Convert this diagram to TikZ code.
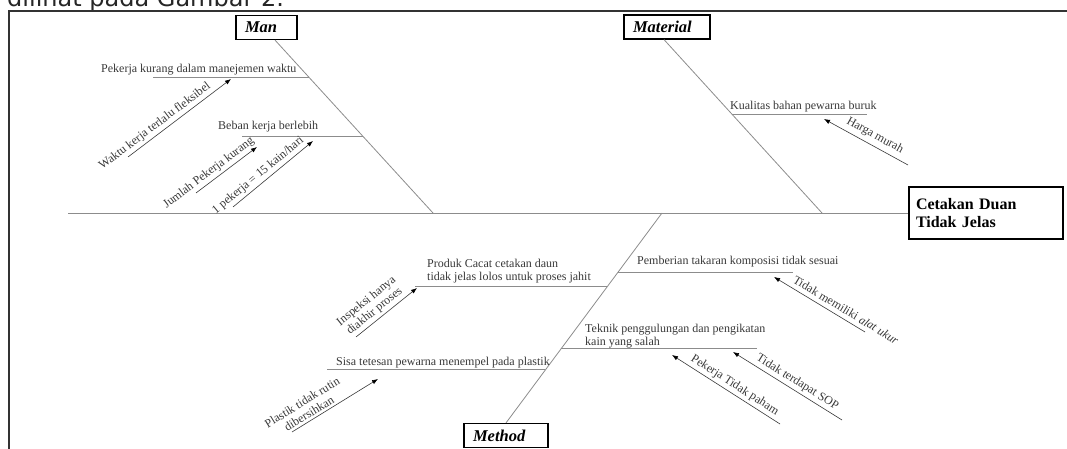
\documentclass[tikz,border=0pt]{standalone}
\usepackage{fontspec}
\setmainfont{Liberation Serif}
\newfontfamily\pagefont{DejaVu Sans}
\usetikzlibrary{arrows.meta}
\definecolor{bonegray}{gray}{0.55}
\definecolor{labgray}{gray}{0.22}
\begin{document}
\begin{tikzpicture}[x=1pt, y=-1pt,
        cat/.style = {draw, line width=1.2pt, font=\fontsize{16.5}{18}\selectfont\bfseries\itshape, align=left, inner xsep=9pt, minimum height=24pt},
        effect/.style = {draw, line width=1.2pt, font=\fontsize{16}{18}\selectfont\bfseries, align=left, text width=140pt, inner xsep=7pt, minimum height=52pt},
        bone/.style = {draw=bonegray, line width=0.8pt},
        cause/.style = {font=\fontsize{12}{13}\selectfont, text=labgray, inner sep=0pt, anchor=base west, align=left},
        why/.style = {draw=labgray, line width=0.6pt, -{Latex[length=6pt,width=4.5pt,color=black]}},
        lab/.style = {font=\fontsize{12}{13}\selectfont, text=labgray, sloped, above, inner sep=2.5pt, align=center}
    ]
        \useasboundingbox (0,0) rectangle (1067,449);
        \clip (0,0) rectangle (1067,449);
        \node[font=\pagefont\fontsize{24}{28}\selectfont, anchor=base west, inner sep=0pt, text=black!85] (pagetext) at (7,7) {dilihat pada Gambar 2.};
        \draw[line width=1.5pt, black!80] (9,11) rectangle (1100,480);

        \node[cat, text width=43pt] (man) at (266.5,27.5) {Man};
        \node[cat, text width=68pt] (material) at (667,27) {Material};
        \node[cat, text width=66pt] (method) at (506,435.5) {Method};
        \node[effect] (effect) at (986,213) {Cetakan Duan\\Tidak Jelas};

        \coordinate (tail) at (68,213);
        \coordinate (manjoint) at (433,213);
        \coordinate (matjoint) at (822,213);
        \coordinate (methjoint) at (662,213);
        \draw[bone] (tail) -- (effect.west);
        \draw[bone] ([xshift=8.5pt]man.south) -- (manjoint);
        \draw[bone] ([xshift=-3pt]material.south) -- (matjoint);
        \draw[bone] (methjoint) -- (method.north);

        \coordinate (m1a) at (153,77);    \coordinate (m1b) at (309,77);
        \coordinate (m2a) at (242,136);   \coordinate (m2b) at (363,136);
        \coordinate (k1a) at (731.5,114); \coordinate (k1b) at (867,114);
        \coordinate (p1a) at (617.5,272); \coordinate (p1b) at (793,272);
        \coordinate (p2a) at (415,286);   \coordinate (p2b) at (607,286);
        \coordinate (p3a) at (560.5,348); \coordinate (p3b) at (757,348);
        \coordinate (p4a) at (327,369);   \coordinate (p4b) at (544.5,369);
        \foreach \a/\b in {m1a/m1b, m2a/m2b, k1a/k1b, p1a/p1b, p2a/p2b, p3a/p3b, p4a/p4b}
            \draw[bone] (\a) -- (\b);

        \node[cause] (waktu) at (101,73) {Pekerja kurang dalam manejemen waktu};
        \node[cause] (beban) at (218,129.5) {Beban kerja berlebih};
        \node[cause] (kualitas) at (730,109.5) {Kualitas bahan pewarna buruk};
        \node[cause] (takaran) at (637,264.5) {Pemberian takaran komposisi tidak sesuai};
        \node[cause, anchor=south west] (produk) at (427,283.5) {Produk Cacat cetakan daun\\tidak jelas lolos untuk proses jahit};
        \node[cause, anchor=south west] (teknik) at (585,348) {Teknik penggulungan dan pengikatan\\kain yang salah};
        \node[cause] (sisa) at (336,365.5) {Sisa tetesan pewarna menempel pada plastik};

        \coordinate (w1t) at (128,157); \coordinate (w1h) at (231,79);
        \coordinate (w2t) at (196,193); \coordinate (w2h) at (257,147);
        \coordinate (w3t) at (233,207); \coordinate (w3h) at (313,141);
        \coordinate (w4t) at (908,165); \coordinate (w4h) at (824,119);
        \coordinate (w5t) at (865,332); \coordinate (w5h) at (774,277);
        \coordinate (w6t) at (842,420); \coordinate (w6h) at (733,352);
        \coordinate (w7t) at (780,424); \coordinate (w7h) at (672,355);
        \coordinate (w8t) at (356,337); \coordinate (w8h) at (417,288);
        \coordinate (w9t) at (292,432); \coordinate (w9h) at (378,379);
        \draw[why] (w1t) -- node[lab, pos=.31] (lfleksibel) {Waktu kerja terlalu fleksibel} (w1h);
        \draw[why] (w2t) -- node[lab, pos=.29] (ljumlah) {Jumlah Pekerja kurang} (w2h);
        \draw[why] (w3t) -- node[lab, pos=.38] (lkain) {1 pekerja = 15 kain/hari} (w3h);
        \draw[why] (w4t) -- node[lab, inner sep=4pt, pos=.45] (lharga) {Harga murah} (w4h);
        \draw[why] (w5t) -- node[lab, inner sep=4.5pt, pos=.26] (lalat) {Tidak memiliki \textit{alat ukur}} (w5h);
        \draw[why] (w6t) -- node[lab, pos=.45] (lsop) {Tidak terdapat SOP} (w6h);
        \draw[why] (w7t) -- node[lab, pos=.46] (lpaham) {Pekerja Tidak paham} (w7h);
        \draw[why] (w8t) -- node[lab, pos=.39] (linspeksi) {Inspeksi hanya\\diakhir proses} (w8h);
        \draw[why] (w9t) -- node[lab, pos=.24] (lplastik) {Plastik tidak rutin\\dibersihkan} (w9h);
    \end{tikzpicture}
\end{document}
